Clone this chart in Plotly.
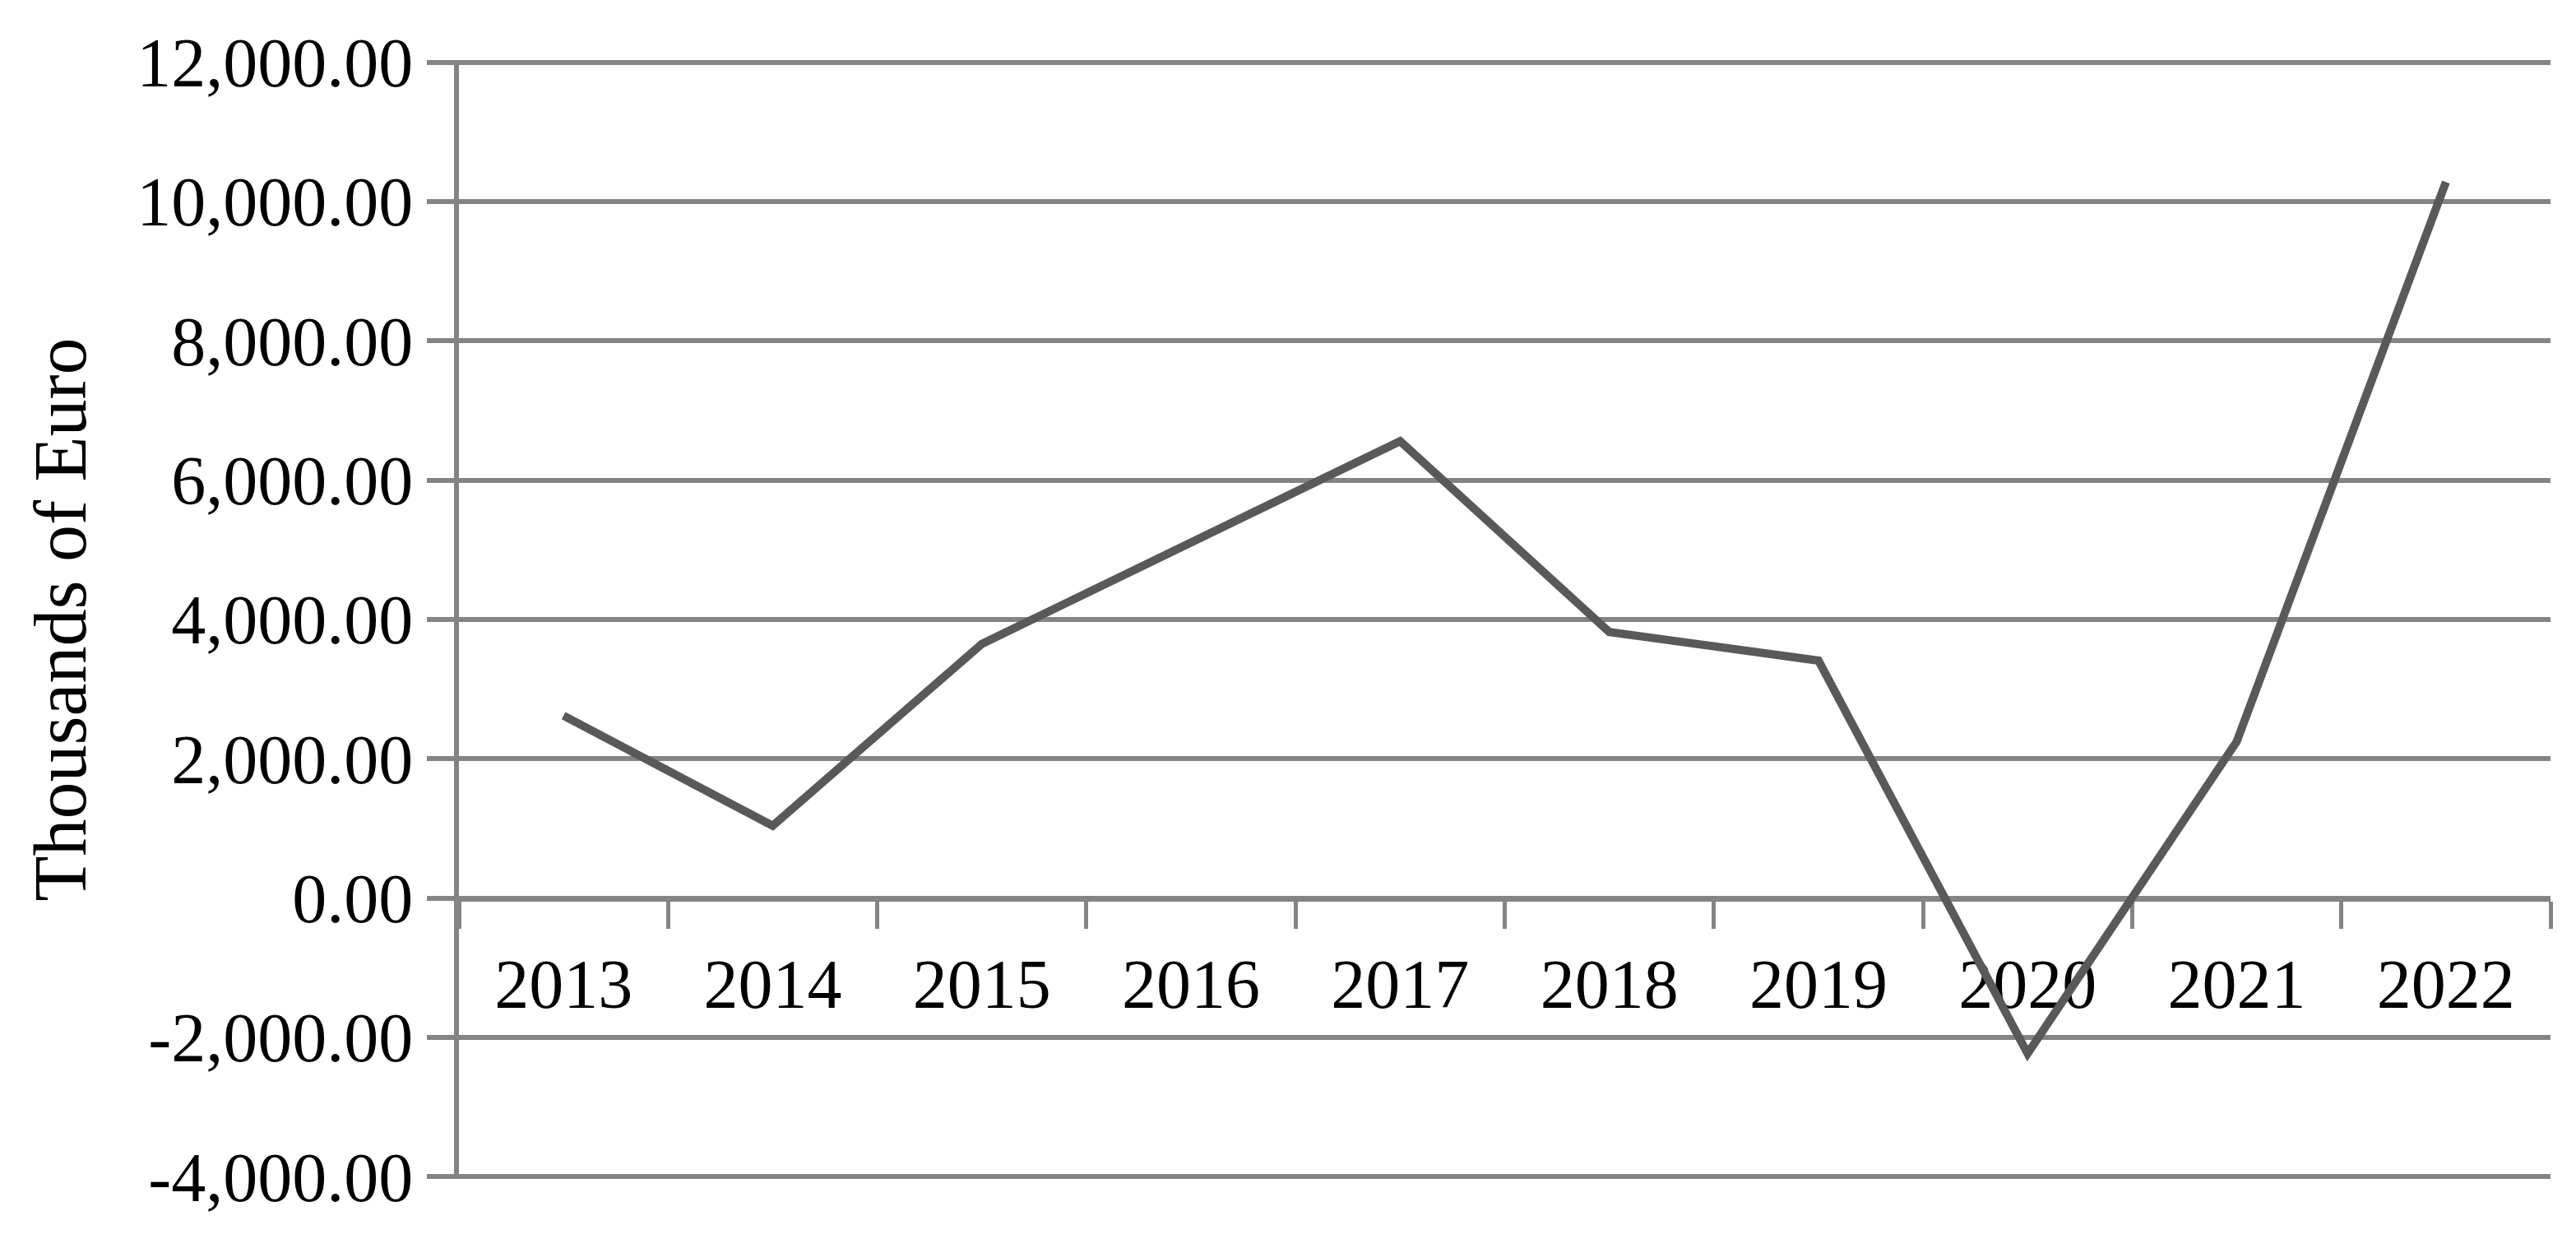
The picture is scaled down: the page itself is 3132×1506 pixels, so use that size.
import plotly.graph_objects as go

years = ["2013", "2014", "2015", "2016", "2017", "2018", "2019", "2020", "2021", "2022"]
values = [2620, 1040, 3650, 5110, 6560, 3820, 3410, -2230, 2250, 10280]

y_tick_vals = [-4000, -2000, 0, 2000, 4000, 6000, 8000, 10000, 12000]
y_tick_labels = ["-4,000.00", "-2,000.00", "0.00", "2,000.00", "4,000.00",
                 "6,000.00", "8,000.00", "10,000.00", "12,000.00"]
y_title = "Thousands of Euro"

FONT = "Liberation Serif, Times New Roman, serif"
GRID = "#848484"

fig = go.Figure()
fig.add_trace(go.Scatter(
    x=years, y=values, mode="lines",
    line=dict(color="#595959", width=10),
    showlegend=False, hoverinfo="skip",
))

fig.update_layout(
    width=3132, height=1506,
    margin=dict(l=550, r=39, t=65, b=81, autoexpand=False),
    paper_bgcolor="white", plot_bgcolor="white",
    font=dict(family=FONT, size=84, color="black"),
    xaxis=dict(
        type="category",
        range=[-0.5, 9.5],
        anchor="free", position=0.25,
        showgrid=False, zeroline=False,
        showline=True, linecolor=GRID, linewidth=6,
        ticks="outside", tickson="boundaries",
        ticklen=33, tickwidth=5, tickcolor=GRID,
        ticklabelstandoff=28,
        tickfont=dict(family=FONT, size=84, color="black"),
        layer="below traces",
        fixedrange=True,
    ),
    yaxis=dict(
        range=[-4030, 12030],
        tickmode="array", tickvals=y_tick_vals, ticktext=y_tick_labels,
        showgrid=True, gridcolor=GRID, gridwidth=6,
        zeroline=False,
        showline=True, linecolor=GRID, linewidth=6,
        ticks="outside", ticklen=33, tickwidth=6, tickcolor=GRID,
        ticklabelstandoff=0,
        tickfont=dict(family=FONT, size=84, color="black"),
        title=dict(text=y_title, font=dict(family=FONT, size=90, color="black"), standoff=34),
        automargin=False,
        layer="below traces",
        fixedrange=True,
    ),
)

fig.write_html("out.html")
